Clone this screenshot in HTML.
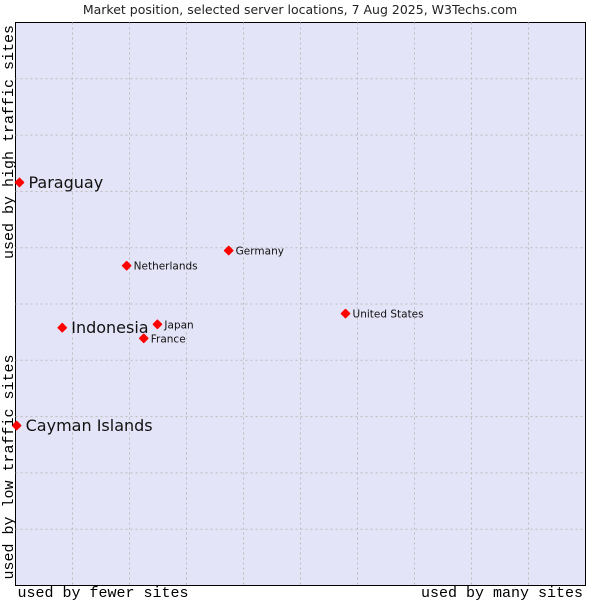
<!DOCTYPE html>
<html><head><meta charset="utf-8"><style>
body{margin:0;background:#fff;}
svg{display:block;}
</style></head><body>
<svg id="chart" width="600" height="600" xmlns="http://www.w3.org/2000/svg">
<rect width="600" height="600" fill="#fff"/>
<text x="300" y="14" text-anchor="middle" font-family="DejaVu Sans, sans-serif" font-size="12.5" fill="#222">Market position, selected server locations, 7 Aug 2025, W3Techs.com</text>
<rect x="15.5" y="22.5" width="570" height="563" fill="#e4e4f8" stroke="#000" stroke-width="1"/>
<g id="grid"></g>
<g id="points"></g>
<text x="103" y="597" text-anchor="middle" font-family="Liberation Mono, DejaVu Sans Mono, monospace" font-size="15" fill="#000">used by fewer sites</text>
<text x="502" y="597" text-anchor="middle" font-family="Liberation Mono, DejaVu Sans Mono, monospace" font-size="15" fill="#000">used by many sites</text>
<text transform="translate(13,142) rotate(-90)" text-anchor="middle" font-family="Liberation Mono, DejaVu Sans Mono, monospace" font-size="15" fill="#000">used by high traffic sites</text>
<text transform="translate(13,467) rotate(-90)" text-anchor="middle" font-family="Liberation Mono, DejaVu Sans Mono, monospace" font-size="15" fill="#000">used by low traffic sites</text>
</svg>
<script>
const names = ["Paraguay","Netherlands","Germany","United States","Indonesia","Japan","France","Cayman Islands"];
const xValues = [0.7,19.5,37.4,57.9,8.2,24.9,22.5,0.2];
const yValues = [71.6,56.8,59.5,48.3,45.8,46.4,43.9,28.4];
const highlighted = [true,false,false,false,true,false,false,true];
const gridTicks = [10,20,30,40,50,60,70,80,90];

const X0=15.5, X1=585.5, Y0=585.5, Y1=22.5;
const sx = v => X0 + (X1-X0)*v/100;
const sy = v => Y0 - (Y0-Y1)*v/100;
const NS="http://www.w3.org/2000/svg";
const grid=document.getElementById('grid');
gridTicks.forEach(t=>{
  const v=document.createElementNS(NS,'line');
  v.setAttribute('x1',sx(t));v.setAttribute('x2',sx(t));v.setAttribute('y1',Y1);v.setAttribute('y2',Y0);
  v.setAttribute('stroke','#bbb');v.setAttribute('stroke-dasharray','2,3');
  
  
  grid.appendChild(v);
  const h=document.createElementNS(NS,'line');
  h.setAttribute('y1',sy(t));h.setAttribute('y2',sy(t));h.setAttribute('x1',X0);h.setAttribute('x2',X1);
  h.setAttribute('stroke','#bbb');h.setAttribute('stroke-dasharray','2,3');
  
  
  grid.appendChild(h);
});
const pts=document.getElementById('points');
names.forEach((n,i)=>{
  const cx=sx(xValues[i]), cy=sy(yValues[i]);
  const c=document.createElementNS(NS,'path');
  c.setAttribute('d',`M${cx-4},${cy} L${cx},${cy-4} L${cx+4},${cy} L${cx},${cy+4} Z`);
  c.setAttribute('fill','#f00');
  c.setAttribute('stroke','#f00');c.setAttribute('stroke-width','1.6');c.setAttribute('stroke-linejoin','round');
  
  
  pts.appendChild(c);
  const t=document.createElementNS(NS,'text');
  const big=highlighted[i];
  t.setAttribute('x',cx+(big?9:7));t.setAttribute('y',cy+(big?5.5:4));
  t.setAttribute('font-family','DejaVu Sans, sans-serif');
  t.setAttribute('font-size',big?'16':'10.5');
  t.setAttribute('fill','#111');
  t.textContent=n;
  
  
  pts.appendChild(t);
});
</script>
</body></html>
